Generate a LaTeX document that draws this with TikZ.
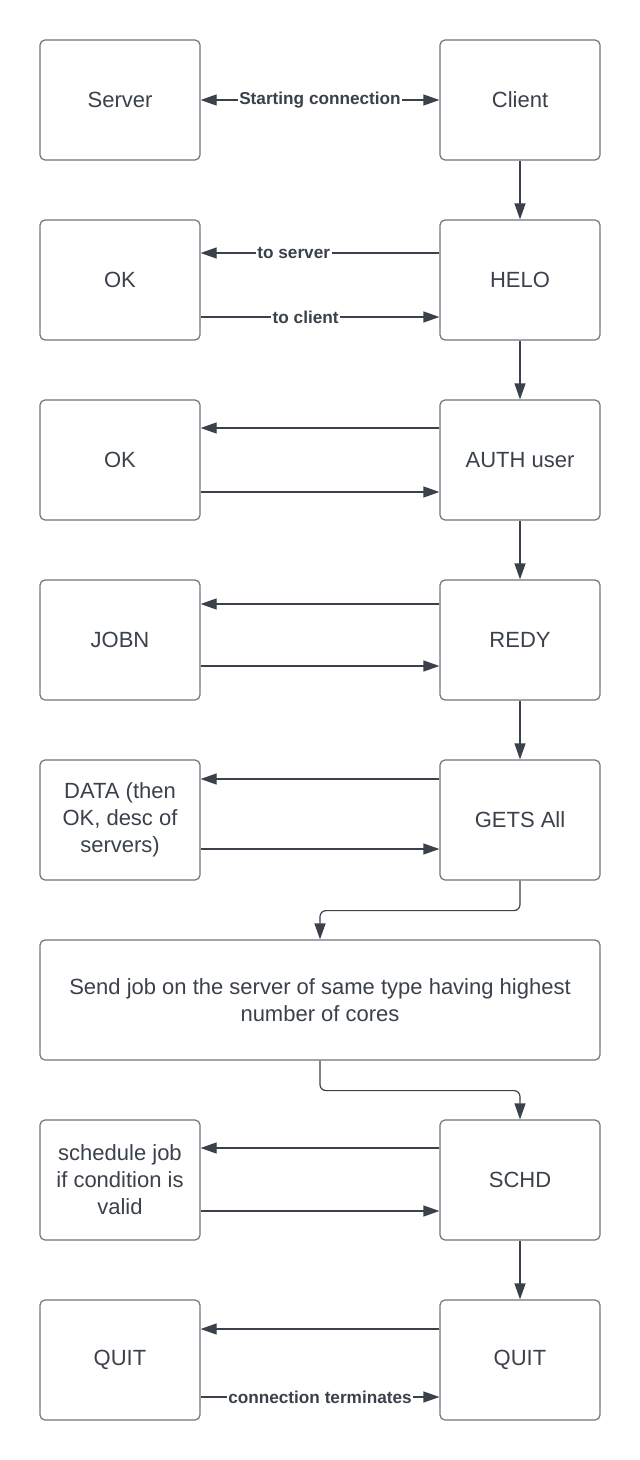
\documentclass[tikz,border=0pt]{standalone}
\usepackage{fontspec}
\setmainfont{Liberation Sans}
\usetikzlibrary{arrows.meta}
\definecolor{ink}{HTML}{3A414A}
\definecolor{rim}{HTML}{70757C}

\begin{document}
\begin{tikzpicture}[x=0.5pt,y=-0.5pt,
  box/.style={draw=rim, line width=0.6pt, rounded corners=2.5pt, minimum width=80pt, minimum height=60pt, align=center, text=ink, font=\fontsize{11}{13.5}\selectfont},
  flow/.style={ink, line width=0.6pt, -{Triangle[length=8pt,width=5.5pt]}},
  msg/.style={fill=white, inner sep=0.8pt, text=ink, font=\fontsize{8.6}{10}\bfseries}]
\useasboundingbox (0,0) rectangle (640,1460);
\node[box] (srv) at (120,100) {Server};
\node[box] (cli) at (520,100) {Client};
\node[box] (ok1) at (120,280) {OK};
\node[box] (helo) at (520,280) {HELO};
\node[box] (ok2) at (120,460) {OK};
\node[box] (auth) at (520,460) {AUTH user};
\node[box] (jobn) at (120,640) {JOBN};
\node[box] (redy) at (520,640) {REDY};
\node[box] (data) at (120,820) {DATA (then\\OK, desc of\\servers)};
\node[box] (gets) at (520,820) {GETS All};
\node[box, minimum width=280pt] (send) at (320,1000) {Send job on the server of same type having highest\\number of cores};
\node[box] (sch) at (120,1180) {schedule job\\if condition is\\valid};
\node[box] (schd) at (520,1180) {SCHD};
\node[box] (quitS) at (120,1360) {QUIT};
\node[box] (quitC) at (520,1360) {QUIT};

\draw[flow, {Triangle[length=8pt,width=5.5pt]}-{Triangle[length=8pt,width=5.5pt]}] (srv.east) -- node[msg] {Starting connection} (cli.west);
\draw[flow] (cli.south) -- (helo.north);
\draw[flow] ([yshift=13.5pt]helo.west) -- node[msg, pos=0.61] {to server} ([yshift=13.5pt]ok1.east);
\draw[flow] ([yshift=-18.5pt]ok1.east) -- node[msg, pos=0.44] {to client} ([yshift=-18.5pt]helo.west);
\draw[flow] (helo.south) -- (auth.north);
\draw[flow] ([yshift=16pt]auth.west) -- ([yshift=16pt]ok2.east);
\draw[flow] ([yshift=-16pt]ok2.east) -- ([yshift=-16pt]auth.west);
\draw[flow] (auth.south) -- (redy.north);
\draw[flow] ([yshift=18pt]redy.west) -- ([yshift=18pt]jobn.east);
\draw[flow] ([yshift=-13pt]jobn.east) -- ([yshift=-13pt]redy.west);
\draw[flow] (redy.south) -- (gets.north);
\draw[flow] ([yshift=20.5pt]gets.west) -- ([yshift=20.5pt]data.east);
\draw[flow] ([yshift=-14.5pt]data.east) -- ([yshift=-14.5pt]gets.west);
\draw[flow, rounded corners=3pt] (gets.south) -- ++(0,30) -| (send.north);
\draw[flow, rounded corners=3pt] (send.south) -- ++(0,30) -| (schd.north);
\draw[flow] ([yshift=16pt]schd.west) -- ([yshift=16pt]sch.east);
\draw[flow] ([yshift=-15.5pt]sch.east) -- ([yshift=-15.5pt]schd.west);
\draw[flow] (schd.south) -- (quitC.north);
\draw[flow] ([yshift=15.5pt]quitC.west) -- ([yshift=15.5pt]quitS.east);
\draw[flow] ([yshift=-18.5pt]quitS.east) -- node[msg] {connection terminates} ([yshift=-18.5pt]quitC.west);
\end{tikzpicture}
\end{document}
